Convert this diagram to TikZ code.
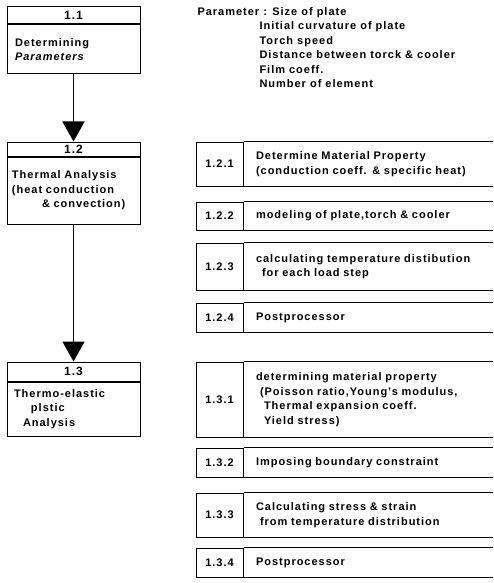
\documentclass[tikz,border=0pt]{standalone}
\usepackage{fontspec}
\setmainfont{Liberation Sans}[LetterSpace=9]
\usetikzlibrary{arrows.meta}

\tikzset{
  headbox/.style={draw, minimum width=133pt, minimum height=#1, inner sep=0pt,
                  font=\bfseries\fontsize{12}{14}\selectfont},
  bodybox/.style={draw, anchor=north, minimum height=#1, text width=123pt,
                  inner xsep=5pt, align=left},
  numbox/.style={draw, minimum width=47pt, minimum height=#1, inner sep=0pt},
  descbox/.style={anchor=west, minimum height=#1, text width=224pt,
                  inner xsep=12pt, align=left},
  flow/.style={-{Triangle[length=20pt,width=22pt]}, line width=1.7pt}
}

\begin{document}
\begin{tikzpicture}[x=1pt, y=-1pt, line width=1pt,
    font=\bfseries\fontsize{11}{14.5}\selectfont]

    \useasboundingbox (0,0) rectangle (493,583);

    % --- left column ---
    \node[headbox=17pt] (h11) at (73.5,15.5) {1.1};
    \node[bodybox=49pt] (b11) at (h11.south)
        {\hspace*{3pt}Determining\\\hspace*{3pt}\textit{Parameters}};

    \node[headbox=14pt] (h12) at (73.5,149) {1.2};
    \node[bodybox=67pt] (b12) at (h12.south)
        {Thermal Analysis\\(heat conduction\\\hspace*{30pt}\& convection)};

    \node[headbox=19pt] (h13) at (73.5,371.5) {1.3};
    \node[bodybox=54pt] (b13) at (h13.south)
        {\hspace*{2pt}Thermo-elastic\\\hspace*{19pt}plstic\\\hspace*{11pt}Analysis};

    % --- arrows ---
    \draw[flow] (b11) -- (h12);
    \draw[flow] (b12) -- (h13);

    % --- parameters ---
    \node[anchor=north west, align=left, inner sep=0pt] (par) at (197,7)
        {Parameter : Size of plate\\
         \hspace*{62pt}Initial curvature of plate\\
         \hspace*{62pt}Torch speed\\
         \hspace*{62pt}Distance between torck \& cooler\\
         \hspace*{62pt}Film coeff.\\
         \hspace*{62pt}Number of element};

    % --- thermal analysis steps ---
    \node[numbox=44pt] (n121) at (219.5,164) {1.2.1};
    \node[descbox=44pt] (t121) at (n121.east)
        {Determine Material Property\\(conduction coeff. \& specific heat)};

    \node[numbox=28pt] (n122) at (219.5,216) {1.2.2};
    \node[descbox=28pt] (t122) at (n122.east)
        {modeling of plate,torch \& cooler};

    \node[numbox=47pt] (n123) at (219.5,266.5) {1.2.3};
    \node[descbox=47pt] (t123) at (n123.east)
        {calculating temperature distibution\\\hspace*{6pt}for each load step};

    \node[numbox=29pt] (n124) at (219.5,317.5) {1.2.4};
    \node[descbox=29pt] (t124) at (n124.east) {Postprocessor};

    % --- thermo-elastic plastic steps ---
    \node[numbox=75pt] (n131) at (219.5,399.5) {1.3.1};
    \node[descbox=75pt] (t131) at (n131.east)
        {determining material property\\
         \hspace*{4pt}(Poisson ratio,Young's modulus,\\
         \hspace*{8pt}Thermal expansion coeff.\\
         \hspace*{8pt}Yield stress)};

    \node[numbox=29pt] (n132) at (219.5,462.5) {1.3.2};
    \node[descbox=29pt] (t132) at (n132.east) {Imposing boundary constraint};

    \node[numbox=44pt] (n133) at (219.5,515) {1.3.3};
    \node[descbox=44pt] (t133) at (n133.east)
        {Calculating stress \& strain\\\hspace*{4pt}from temperature distribution};

    \node[numbox=29pt] (n134) at (219.5,562.5) {1.3.4};
    \node[descbox=29pt] (t134) at (n134.east) {Postprocessor};

    % --- open row lines ---
    \draw (t121.north west) -- (t121.north east) (t121.south west) -- (t121.south east);
    \draw (t122.north west) -- (t122.north east) (t122.south west) -- (t122.south east);
    \draw (t123.north west) -- (t123.north east) (t123.south west) -- (t123.south east);
    \draw (t124.north west) -- (t124.north east) (t124.south west) -- (t124.south east);
    \draw (t131.north west) -- (t131.north east) (t131.south west) -- (t131.south east);
    \draw (t132.north west) -- (t132.north east) (t132.south west) -- (t132.south east);
    \draw (t133.north west) -- (t133.north east) (t133.south west) -- (t133.south east);
    \draw (t134.north west) -- (t134.north east) (t134.south west) -- (t134.south east);

\end{tikzpicture}
\end{document}
